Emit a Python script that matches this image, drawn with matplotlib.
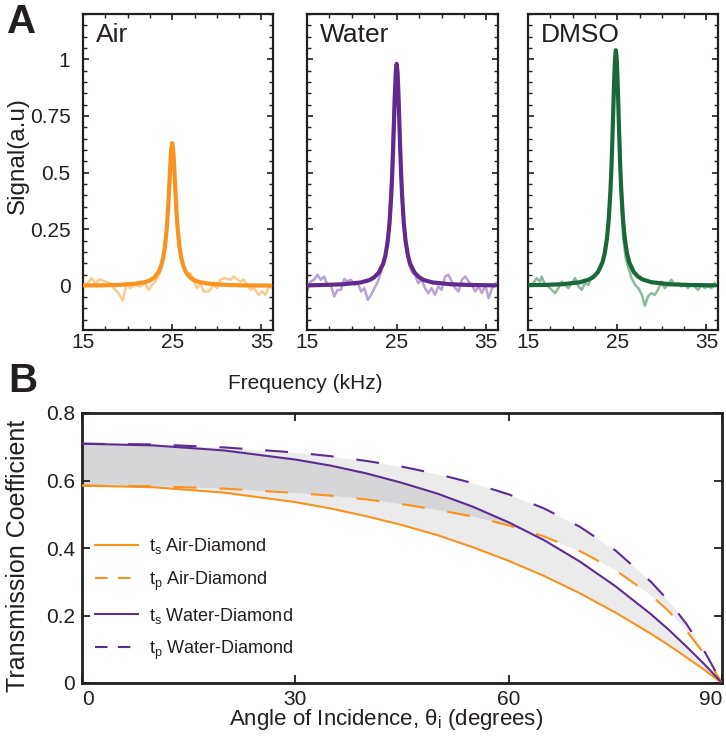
import matplotlib
matplotlib.use('Agg')
import matplotlib.pyplot as plt
from matplotlib.ticker import FixedLocator, MultipleLocator
from matplotlib.lines import Line2D
import numpy as np

plt.rcParams['font.family'] = ['Liberation Sans', 'DejaVu Sans']
plt.rcParams['mathtext.fontset'] = 'custom'
plt.rcParams['mathtext.rm'] = 'Liberation Sans'
plt.rcParams['mathtext.it'] = 'Liberation Sans:italic'

# ---------------- Panel A data ----------------
panel_names = ["Air", "Water", "DMSO"]

# Lorentzian fit curves
air_fit_f = [15, 17, 19, 21, 22, 22.5, 23, 23.5, 23.75, 24, 24.2, 24.4, 24.5, 24.6, 24.7, 24.8, 24.9, 25,
             25.1, 25.2, 25.3, 25.4, 25.5, 25.6, 25.8, 26, 26.25, 26.5, 27, 27.5, 28, 29, 31, 33, 36]
air_fit_s = [0.002, 0.002, 0.004, 0.010, 0.017, 0.024, 0.037, 0.063, 0.087, 0.126, 0.177, 0.258, 0.315,
             0.384, 0.463, 0.543, 0.606, 0.630, 0.606, 0.543, 0.463, 0.384, 0.315, 0.258, 0.177, 0.126,
             0.087, 0.063, 0.037, 0.024, 0.017, 0.010, 0.004, 0.002, 0.001]
water_fit_f = air_fit_f
water_fit_s = [0.002, 0.004, 0.007, 0.015, 0.026, 0.038, 0.058, 0.098, 0.135, 0.196, 0.275, 0.402, 0.490,
               0.598, 0.721, 0.845, 0.942, 0.980, 0.942, 0.845, 0.721, 0.598, 0.490, 0.402, 0.275, 0.196,
               0.135, 0.098, 0.058, 0.038, 0.026, 0.015, 0.007, 0.004, 0.002]
dmso_fit_f = [15, 16.85, 18.85, 20.85, 21.85, 22.35, 22.85, 23.35, 23.6, 23.85, 24.05, 24.25, 24.35, 24.45,
              24.55, 24.65, 24.75, 24.85, 24.95, 25.05, 25.15, 25.25, 25.35, 25.45, 25.65, 25.85, 26.1,
              26.35, 26.85, 27.35, 27.85, 28.85, 30.85, 32.85, 36]
dmso_fit_s = [0.003, 0.004, 0.007, 0.016, 0.028, 0.040, 0.061, 0.104, 0.143, 0.208, 0.292, 0.426, 0.520,
              0.634, 0.765, 0.897, 1.000, 1.040, 1.000, 0.897, 0.765, 0.634, 0.520, 0.426, 0.292, 0.208,
              0.143, 0.104, 0.061, 0.040, 0.028, 0.016, 0.007, 0.004, 0.002]

# Measured (noisy) signals
air_raw_f = [15.04, 15.97, 16.35, 16.91, 17.47, 18.03, 18.41, 18.97, 19.46, 19.91, 20.28, 20.84, 21.4, 21.97,
             22.34, 22.72, 23.09, 23.46, 23.9, 24.3, 24.6, 24.8, 25.0, 25.2, 25.4, 25.7, 26.0, 26.4, 26.7,
             27.02, 27.4, 27.77, 28.15, 28.52, 29.08, 29.64, 30.02, 30.39, 30.96, 31.52, 31.89, 32.27,
             32.64, 33.02, 33.39, 33.76, 34.14, 34.7, 35.07, 35.45, 35.82, 36.1]
air_raw_s = [-0.010, 0.034, 0.012, 0.029, 0.019, 0.012, -0.010, -0.032, -0.065, 0.012, -0.010, 0.004, -0.003,
             0.012, -0.018, 0.004, 0.019, 0.041, 0.10, 0.22, 0.39, 0.54, 0.62, 0.54, 0.38, 0.21, 0.12, 0.07,
             0.045, 0.056, 0.027, -0.010, 0.012, -0.025, -0.025, 0.004, -0.010, 0.027, 0.034, 0.027, 0.041,
             0.029, 0.019, 0.027, 0.004, -0.018, -0.010, -0.040, -0.025, -0.040, -0.003, -0.008]

water_raw_f = [15.0, 15.41, 15.79, 16.16, 16.54, 16.91, 17.28, 17.66, 18.03, 18.41, 18.78, 19.16, 19.53,
               19.91, 20.28, 20.66, 21.03, 21.4, 21.78, 22.15, 22.53, 22.9, 23.28, 23.7, 24.1, 24.4, 24.7,
               25.0, 25.2, 25.5, 25.8, 26.1, 26.4, 26.7, 27.02, 27.4, 27.77, 28.15, 28.52, 28.9, 29.27,
               29.64, 30.02, 30.39, 30.77, 31.14, 31.52, 31.89, 32.27, 32.64, 33.02, 33.39, 33.76, 34.14,
               34.51, 34.89, 35.26, 35.64, 36.1]
water_raw_s = [-0.025, 0.019, 0.027, 0.049, 0.027, 0.041, 0.004, 0.004, -0.047, -0.018, -0.018, 0.031, 0.019,
               0.027, 0.004, 0.012, -0.025, -0.010, -0.062, -0.040, -0.010, 0.019, 0.063, 0.12, 0.26, 0.47,
               0.83, 0.96, 0.86, 0.48, 0.26, 0.16, 0.09, 0.06, 0.049, 0.012, 0.027, -0.010, -0.032, -0.010,
               -0.040, -0.003, -0.018, 0.041, 0.049, 0.019, -0.010, -0.025, 0.027, 0.041, 0.019, 0.004,
               -0.025, -0.003, -0.032, 0.004, -0.055, -0.010, 0.012]

dmso_raw_f = [15.0, 15.6, 15.97, 16.35, 16.54, 16.91, 17.29, 17.66, 18.03, 18.41, 18.78, 19.16, 19.53,
              19.91, 20.28, 20.66, 21.03, 21.4, 21.78, 21.97, 22.34, 22.72, 23.1, 23.5, 23.9, 24.2, 24.5,
              24.85, 25.05, 25.25, 25.45, 25.65, 25.95, 26.25, 26.6, 27.0, 27.4, 27.77, 28.1, 28.45, 28.82,
              29.2, 29.57, 29.94, 30.32, 30.69, 31.07, 31.44, 31.82, 32.19, 32.57, 32.94, 33.32, 33.69,
              34.06, 34.44, 34.81, 35.19, 35.56, 35.94]
dmso_raw_s = [-0.003, 0.012, 0.034, 0.019, 0.041, 0.004, -0.003, -0.018, -0.032, -0.010, 0.019, 0.004,
              -0.010, 0.012, 0.034, -0.003, -0.018, 0.012, 0.004, 0.027, 0.034, 0.056, 0.08, 0.13, 0.24,
              0.40, 0.70, 1.03, 0.92, 0.62, 0.38, 0.22, 0.12, 0.08, 0.035, 0.004, -0.012, -0.040, -0.088,
              -0.047, -0.032, -0.040, -0.018, 0.019, -0.010, 0.004, 0.027, 0.004, 0.012, -0.003, 0.004,
              -0.010, 0.004, -0.003, -0.018, 0.004, -0.010, -0.003, -0.010, 0.012]

fit_f = [air_fit_f, water_fit_f, dmso_fit_f]
fit_s = [air_fit_s, water_fit_s, dmso_fit_s]
raw_f = [air_raw_f, water_raw_f, dmso_raw_f]
raw_s = [air_raw_s, water_raw_s, dmso_raw_s]
dark_cols = ["#F7931E", "#62298F", "#17693A"]
light_cols = ["#FCCB91", "#B9A3D3", "#8DBA9C"]

freq_ticks = [15, 25, 35]
sig_ticks = [0, 0.25, 0.5, 0.75, 1]
sig_ticklabels = ["0", "0.25", "0.5", "0.75", "1"]

# ---------------- Panel B data ----------------
angle = [0, 10, 20, 30, 35, 40, 45, 50, 55, 60, 65, 70, 75, 80, 82.5, 85, 87.5, 90]
ts_air = [0.585, 0.580, 0.564, 0.536, 0.517, 0.494, 0.468, 0.438, 0.402, 0.362, 0.317, 0.266, 0.209,
          0.146, 0.112, 0.076, 0.039, 0.0]
tp_air = [0.585, 0.583, 0.576, 0.563, 0.555, 0.544, 0.530, 0.513, 0.493, 0.467, 0.434, 0.391, 0.335,
          0.260, 0.213, 0.155, 0.086, 0.0]
ts_water = [0.709, 0.704, 0.689, 0.662, 0.644, 0.621, 0.593, 0.561, 0.522, 0.476, 0.423, 0.360, 0.287,
            0.204, 0.158, 0.108, 0.056, 0.0]
tp_water = [0.709, 0.707, 0.698, 0.683, 0.672, 0.658, 0.641, 0.619, 0.592, 0.559, 0.517, 0.463, 0.393,
            0.300, 0.243, 0.175, 0.095, 0.0]
legend_labels = [r"t$_\mathregular{s}$ Air-Diamond", r"t$_\mathregular{p}$ Air-Diamond",
                 r"t$_\mathregular{s}$ Water-Diamond", r"t$_\mathregular{p}$ Water-Diamond"]
angle_ticks = [0, 30, 60, 90]
coef_ticks = [0, 0.2, 0.4, 0.6, 0.8]

# ---------------- Figure ----------------
W, H = 726, 740
fig = plt.figure(figsize=(W / 100, H / 100), dpi=100)

def rect(l, t, r, b):
    return [l / W, 1 - b / H, (r - l) / W, (b - t) / H]

spine_col = "#231F20"
boxes = [(83, 14, 273, 330), (307, 14, 498, 330), (528, 14, 718, 330)]
for i in range(3):
    ax = fig.add_axes(rect(*boxes[i]))
    ax.plot(raw_f[i], raw_s[i], color=light_cols[i], lw=1.8, solid_joinstyle='round', zorder=2)
    ax.plot(fit_f[i], fit_s[i], color=dark_cols[i], lw=3.0, solid_capstyle='round',
            solid_joinstyle='round', zorder=3)
    ax.set_xlim(15, 36.3)
    ax.set_ylim(-0.195, 1.2)
    ax.xaxis.set_major_locator(FixedLocator(freq_ticks))
    ax.xaxis.set_minor_locator(FixedLocator([17.5, 20, 22.5, 27.5, 30, 32.5]))
    ax.yaxis.set_major_locator(FixedLocator(sig_ticks))
    ax.yaxis.set_minor_locator(MultipleLocator(0.05))
    ax.tick_params(which='both', direction='in', top=True, right=True, color=spine_col,
                   labelsize=15, labelcolor="#231F20")
    ax.tick_params(which='major', length=4, width=1.2)
    ax.tick_params(which='minor', length=3, width=1.0)
    ax.tick_params(axis='x', pad=2)
    ax.tick_params(axis='y', pad=9)
    if i == 0:
        ax.set_yticklabels(sig_ticklabels)
    else:
        ax.set_yticklabels([])
    for s in ax.spines.values():
        s.set_linewidth(1.6)
        s.set_color(spine_col)
    ax.text(0.07, 0.97, panel_names[i], transform=ax.transAxes, ha='left', va='top',
            fontsize=19, color="#231F20")

fig.text(18 / W, 1 - 156 / H, "Signal(a.u)", rotation=90, ha='center', va='center', fontsize=17.5,
         color="#231F20")
fig.text(305 / W, 1 - 383 / H, "Frequency (kHz)", ha='center', va='center', fontsize=15,
         color="#231F20")
fig.text(7 / W, 1 - 22 / H, "A", ha='left', va='center', fontsize=29, fontweight='bold', color="#231F20")
fig.text(8 / W, 1 - 381 / H, "B", ha='left', va='center', fontsize=29, fontweight='bold', color="#231F20")

# Panel B
axb = fig.add_axes(rect(82, 413, 722, 683))
ang = np.array(angle)
a_ts, a_tp = np.array(ts_air), np.array(tp_air)
w_ts, w_tp = np.array(ts_water), np.array(tp_water)
light_gray = "#EBEBEB"
dark_gray = "#D6D6D8"
axb.fill_between(ang, a_ts, w_ts, color=light_gray, lw=0, zorder=1)
axb.fill_between(ang, a_tp, w_tp, color=light_gray, lw=0, zorder=1)
axb.fill_between(ang, a_tp, w_ts, where=(w_ts >= a_tp), interpolate=True, color=dark_gray, lw=0, zorder=1.5)

orange = "#F7931E"
purple = "#5E2C8F"
dash = (0, (11, 11))
axb.plot(ang, a_ts, color=orange, lw=1.5, zorder=3)
axb.plot(ang, a_tp, color=orange, lw=1.5, ls=dash, zorder=3)
axb.plot(ang, w_ts, color=purple, lw=1.5, zorder=3)
axb.plot(ang, w_tp, color=purple, lw=1.5, ls=dash, zorder=3)

axb.set_xlim(0, 90)
axb.set_ylim(0, 0.8)
axb.xaxis.set_major_locator(FixedLocator(angle_ticks))
axb.yaxis.set_major_locator(FixedLocator(coef_ticks))
axb.set_yticklabels(["0", "0.2", "0.4", "0.6", "0.8"])
axb.set_xticklabels(["0", "30", "60", "90"])
axb.tick_params(direction='in', top=True, right=True, length=6, width=1.3, color=spine_col,
                labelsize=15, labelcolor="#231F20", pad=5)
xl = axb.get_xticklabels()
xl[0].set_ha('left')
xl[-1].set_ha('right')
for s in axb.spines.values():
    s.set_linewidth(2.0)
    s.set_color(spine_col)

handles = [Line2D([], [], color=orange, lw=1.5),
           Line2D([], [], color=orange, lw=1.5, ls=(0, (6, 5))),
           Line2D([], [], color=purple, lw=1.5),
           Line2D([], [], color=purple, lw=1.5, ls=(0, (6, 5)))]
leg = axb.legend(handles, legend_labels, loc='upper left', bbox_to_anchor=(0.0, 0.59),
                 frameon=False, fontsize=13, handlelength=2.4, handletextpad=0.6,
                 labelspacing=0.72, borderaxespad=0.3)
for t in leg.get_texts():
    t.set_color("#231F20")

fig.text(18 / W, 1 - 556 / H, "Transmission Coefficient", rotation=90, ha='center', va='center',
         fontsize=18, color="#231F20")
fig.text(386 / W, 1 - 720 / H, r"Angle of Incidence, θ$_\mathregular{i}$ (degrees)", ha='center',
         va='center', fontsize=16, color="#231F20")

fig.savefig("out.png", dpi=100)
